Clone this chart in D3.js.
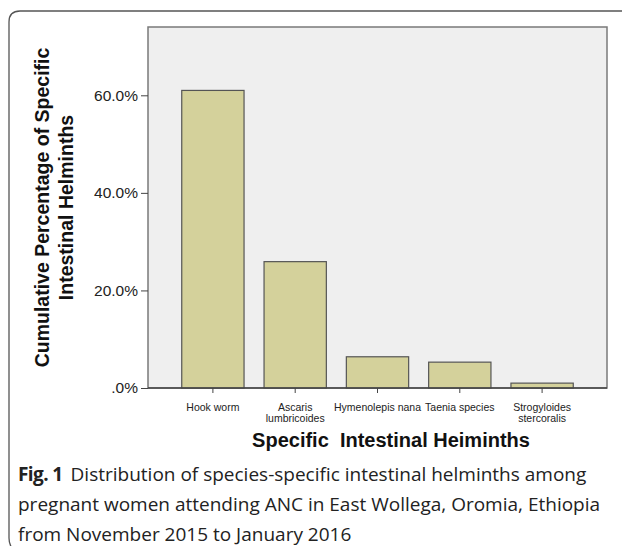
<!DOCTYPE html>
<html>
<head>
<meta charset="utf-8">
<script src="https://d3js.org/d3.v7.min.js"></script>
<style>
  body { margin: 0; background: #fff; }
</style>
</head>
<body>
<div id="chart"></div>
<script>
// species (two-line labels) and cumulative percentages
const species = ["Hook worm", "Ascaris|lumbricoides", "Hymenolepis nana", "Taenia species", "Strogyloides|stercoralis"];
const percents = [61.0, 25.9, 6.4, 5.3, 1.0];
const yTicks = [0, 20, 40, 60];
const captionLines = [
  "Distribution of species-specific intestinal helminths among",
  "pregnant women attending ANC in East Wollega, Oromia, Ethiopia",
  "from November 2015 to January 2016"
];

const W = 622, H = 546;
const plot = { left: 148, top: 27, right: 607, bottom: 388 };

const svg = d3.select("#chart").append("svg")
  .attr("width", W).attr("height", H);

// outer figure frame (rounded top-left, runs off the page)
svg.append("path")
  .attr("d", `M ${W + 5} 11 L 20 11 Q 9 11 9 22 L 9 ${H - 8} Q 9 ${H} 14 ${H + 4}`)
  .attr("fill", "none").attr("stroke", "#555").attr("stroke-width", 1.3);

const x = d3.scaleBand()
  .domain(species)
  .range([plot.left, plot.right])
  .paddingInner(0.243)
  .paddingOuter(0.41);

const y = d3.scaleLinear()
  .domain([0, 74])
  .range([plot.bottom, plot.top]);

// plot background
svg.append("rect")
  .attr("x", plot.left).attr("y", plot.top)
  .attr("width", plot.right - plot.left).attr("height", plot.bottom - plot.top)
  .attr("fill", "#efefef").attr("stroke", "#7a7a7a").attr("stroke-width", 1.5);

svg.append("g").selectAll("rect")
  .data(percents)
  .join("rect")
    .attr("x", (d, i) => x(species[i]))
    .attr("y", d => y(d))
    .attr("width", x.bandwidth())
    .attr("height", d => y(0) - y(d))
    .attr("fill", "#d4d19b")
    .attr("stroke", "#555")
    .attr("stroke-width", 1.2);

// y axis
const yAxis = svg.append("g")
  .attr("transform", `translate(${plot.left},0)`)
  .call(d3.axisLeft(y).tickValues(yTicks).tickSize(7).tickPadding(3)
    .tickFormat(d => d === 0 ? ".0%" : d.toFixed(1) + "%"));
yAxis.select(".domain").remove();
yAxis.selectAll("line").attr("stroke", "#444");
yAxis.selectAll("text")
  .attr("font-family", "Liberation Sans, Arial, sans-serif")
  .attr("font-size", 15.5).attr("fill", "#222");

// x axis
const xAxis = svg.append("g")
  .attr("transform", `translate(0,${plot.bottom})`)
  .call(d3.axisBottom(x).tickSize(5).tickFormat(""));
xAxis.select(".domain").attr("stroke", "#444").attr("stroke-width", 1.5)
  .attr("d", `M${plot.left},0H${plot.right}`);
xAxis.selectAll("line").attr("stroke", "#444");

svg.append("g").selectAll("text")
  .data(species)
  .join("text")
    .attr("x", d => x(d) + x.bandwidth() / 2)
    .attr("y", plot.bottom + 23)
    .attr("text-anchor", "middle")
    .attr("font-family", "Liberation Sans, Arial, sans-serif")
    .attr("font-size", 10.5).attr("fill", "#222")
    .each(function (d) {
      d.split("|").forEach((part, k) => {
        d3.select(this).append("tspan")
          .attr("x", x(d) + x.bandwidth() / 2)
          .attr("dy", k === 0 ? 0 : 10.5)
          .text(part);
      });
    });

// axis titles
svg.append("text")
  .attr("x", 391).attr("y", 447)
  .attr("text-anchor", "middle")
  .attr("font-family", "Liberation Sans, Arial, sans-serif")
  .attr("font-weight", "bold").attr("font-size", 20).attr("fill", "#111")
  .attr("xml:space", "preserve")
  .text("Specific  Intestinal Heiminths");

const yTitle = svg.append("text")
  .attr("transform", `translate(0,${(plot.top + plot.bottom) / 2}) rotate(-90)`)
  .attr("text-anchor", "middle")
  .attr("font-family", "Liberation Sans, Arial, sans-serif")
  .attr("font-weight", "bold").attr("font-size", 19.5).attr("fill", "#111");
yTitle.append("tspan").attr("x", 0).attr("y", 49).text("Cumulative Percentage of Specific");
yTitle.append("tspan").attr("x", 0).attr("y", 73).text("Intestinal Helminths");

// caption
const cap = svg.append("text")
  .attr("font-family", "Open Sans, Noto Sans, sans-serif")
  .attr("font-size", 19).attr("fill", "#222");
captionLines.forEach((line, i) => {
  const t = cap.append("tspan").attr("x", 18).attr("y", 481 + i * 30);
  if (i === 0) {
    t.append("tspan").attr("font-weight", "bold").attr("letter-spacing", -0.6).text("Fig. 1");
    t.append("tspan").attr("dx", 8).text(line);
  } else {
    t.text(line);
  }
});
</script>
</body>
</html>
